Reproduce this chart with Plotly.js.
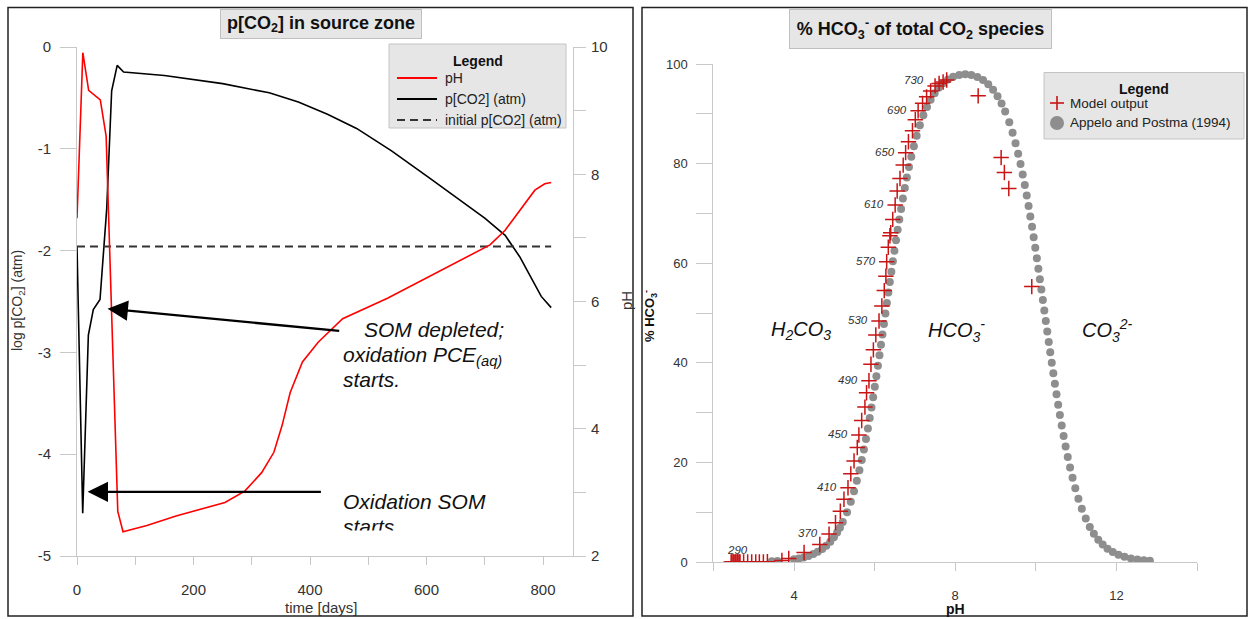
<!DOCTYPE html>
<html>
<head>
<meta charset="utf-8">
<script src="https://cdn.plot.ly/plotly-3.0.1.min.js"></script>
<style>
html,body{margin:0;padding:0;background:#fff;}
#chart{width:1251px;height:619px;}
</style>
</head>
<body>
<div id="chart"></div>
<script>
// ---------- Left chart data: p[CO2] in source zone ----------
const pHTime   = [0, 10, 20, 40, 50, 70, 79, 120, 170, 210, 254, 288, 317, 338, 352, 366, 387, 414, 456, 533, 600, 657, 709, 735, 760, 786, 803, 814];
const pHValues = [7.31, 9.91, 9.32, 9.17, 8.60, 2.70, 2.38, 2.48, 2.63, 2.73, 2.84, 3.02, 3.31, 3.63, 4.05, 4.57, 5.05, 5.36, 5.73, 6.05, 6.37, 6.65, 6.89, 7.12, 7.43, 7.75, 7.85, 7.87];

const co2Time   = [0, 9.8, 19.5, 28, 39.5, 45, 51, 59.5, 69, 80, 150, 250, 330, 380, 430, 480, 540, 606, 657, 700, 735, 760, 780, 797, 814];
const co2Values = [-1.96, -4.58, -2.83, -2.58, -2.48, -2.08, -1.59, -0.43, -0.18, -0.245, -0.28, -0.36, -0.45, -0.54, -0.66, -0.80, -1.02, -1.29, -1.50, -1.68, -1.85, -2.06, -2.27, -2.45, -2.56];

const initTime   = [0, 814];
const initValues = [-1.96, -1.96];

const leftYTickVals = [0, -1, -2, -3, -4, -5];
const leftYTickText = ['0', '-1', '-2', '-3', '-4', '-5'];

const leftLegendNames  = ['pH', 'p[CO2] (atm)', 'initial p[CO2] (atm)'];
const rightLegendNames = ['Model output', 'Appelo and Postma (1994)'];

// ---------- Right chart data: % HCO3- of total CO2 species ----------
const modelPH  = [2.44, 2.46, 2.49, 2.51, 2.54, 2.56, 2.59, 2.61, 2.64, 2.66, 2.75, 2.85, 2.95, 3.05, 3.14, 3.24, 3.34, 3.70, 3.87, 4.25,
                  4.64, 4.87, 5.03, 5.15, 5.24, 5.34, 5.41, 5.49, 5.57, 5.61, 5.68, 5.76, 5.80, 5.86, 5.91, 5.97, 6.03, 6.11, 6.18, 6.24,
                  6.28, 6.30, 6.34, 6.38, 6.40, 6.45, 6.51, 6.56, 6.63, 6.71, 6.77, 6.84, 6.94, 7.01, 7.08, 7.19, 7.29, 7.39, 7.50, 7.60,
                  7.70, 7.79, 8.57, 9.14, 9.22, 9.33, 9.90];
const modelPct = [0, 0, 0, 0, 0, 0, 0, 0, 0, 0, 0, 0, 0, 0, 0, 0, 0.05, 0.3, 0.7, 1.9,
                  3.5, 5.6, 7.9, 10.2, 12.6, 14.9, 17.7, 20.3, 23.0, 25.5, 28.4, 31.1, 34.0, 36.4, 39.7, 42.6, 45.6, 48.4, 51.4, 54.5,
                  57.4, 60.3, 63.2, 65.5, 66.1, 68.8, 71.7, 74.5, 77.0, 79.7, 82.2, 84.4, 86.6, 88.8, 90.6, 92.1, 93.4, 94.6, 95.6, 96.1,
                  96.4, 96.8, 93.6, 81.2, 78.2, 75.0, 55.3];

const appeloPH  = [3.45, 3.59, 4.00, 4.12, 4.24, 4.36, 4.48, 4.59, 4.70, 4.80, 4.90, 4.99, 5.07, 5.14, 5.21,
                   5.316, 5.409, 5.489, 5.559, 5.623, 5.681, 5.735, 5.786, 5.834, 5.879, 5.923, 5.964, 6.005, 6.044, 6.083,
                   6.121, 6.158, 6.195, 6.232, 6.268, 6.305, 6.341, 6.378, 6.416, 6.453, 6.492, 6.531, 6.572, 6.613, 6.657,
                   6.702, 6.750, 6.800, 6.853, 6.911, 6.974, 7.044, 7.123, 7.210,
                   7.30, 7.39, 7.49, 7.59, 7.70, 7.82, 7.95, 8.10, 8.25, 8.40, 8.55, 8.69, 8.82, 8.94, 9.05, 9.15, 9.24,
                   9.342, 9.424, 9.497, 9.562, 9.621, 9.675, 9.727, 9.775, 9.821, 9.864, 9.907, 9.947, 9.987, 10.026, 10.064,
                   10.101, 10.138, 10.175, 10.211, 10.248, 10.284, 10.321, 10.358, 10.396, 10.435, 10.474, 10.514, 10.555,
                   10.598, 10.643, 10.690, 10.740, 10.793, 10.850, 10.912, 10.980, 11.057, 11.142,
                   11.24, 11.34, 11.44, 11.55, 11.66, 11.78, 11.91, 12.05, 12.20, 12.36, 12.52, 12.68, 12.83];
const appeloPct = [0.15, 0.21, 0.53, 0.70, 0.92, 1.22, 1.60, 2.05, 2.62, 3.28, 4.09, 4.99, 5.93, 6.90, 8.01,
                   10.0, 12.1, 14.2, 16.3, 18.4, 20.5, 22.6, 24.7, 26.8, 28.9, 31.0, 33.1, 35.2, 37.3, 39.4,
                   41.5, 43.6, 45.7, 47.8, 49.9, 52.0, 54.1, 56.2, 58.3, 60.4, 62.5, 64.6, 66.7, 68.8, 70.9,
                   73.0, 75.1, 77.2, 79.3, 81.4, 83.5, 85.6, 87.7, 89.7,
                   91.37, 92.82, 94.14, 95.22, 96.14, 96.88, 97.44, 97.81, 97.92, 97.80, 97.41, 96.78, 95.91, 94.82, 93.53, 92.05, 90.44,
                   88.3, 86.2, 84.1, 82.0, 79.9, 77.8, 75.7, 73.6, 71.5, 69.4, 67.3, 65.2, 63.1, 61.0, 58.9,
                   56.8, 54.7, 52.6, 50.5, 48.4, 46.3, 44.2, 42.1, 40.0, 37.9, 35.8, 33.7, 31.6,
                   29.5, 27.4, 25.3, 23.2, 21.1, 19.0, 16.9, 14.8, 12.7, 10.7,
                   8.72, 7.05, 5.68, 4.47, 3.50, 2.68, 2.00, 1.46, 1.04, 0.72, 0.50, 0.35, 0.25];

// time labels of model output, attached to model points (by index)
const timeLabels   = ['290', '370', '410', '450', '490', '530', '570', '610', '650', '690', '730'];
const timeLabelIdx = [7, 21, 25, 29, 33, 37, 41, 46, 50, 54, 58];

// ---------- helpers ----------
const W = 1251, H = 619;
const FONT = 'Arial, "Liberation Sans", Helvetica, sans-serif';
const px = v => v / W;
const py = v => 1 - v / H;
const AX = '#c8c8c8';
const TXT = '#333333';
const RED = '#ff0000', BLACK = '#000000', DASHC = '#333333';
const MODELC = '#c81414', APPC = '#8e8e8e';

const traces = [
  {x: pHTime, y: pHValues, xaxis: 'x', yaxis: 'y2', name: leftLegendNames[0], mode: 'lines',
   line: {color: RED, width: 1.6}},
  {x: co2Time, y: co2Values, xaxis: 'x', yaxis: 'y', name: leftLegendNames[1], mode: 'lines',
   line: {color: BLACK, width: 1.6}},
  {x: initTime, y: initValues, xaxis: 'x', yaxis: 'y', name: leftLegendNames[2], mode: 'lines',
   line: {color: DASHC, width: 2, dash: '8px,5px'}},
  {x: appeloPH, y: appeloPct, xaxis: 'x3', yaxis: 'y3', name: rightLegendNames[1], mode: 'markers',
   marker: {symbol: 'circle', size: 8, color: APPC}},
  {x: modelPH, y: modelPct, xaxis: 'x3', yaxis: 'y3', name: rightLegendNames[0], mode: 'markers',
   marker: {symbol: 'cross-thin', size: 11, color: MODELC, line: {color: MODELC, width: 1.5}}}
];

const baseAxis = {
  showline: true, linecolor: AX, linewidth: 1, ticks: 'outside', tickcolor: AX, tickwidth: 1,
  showgrid: false, zeroline: false, fixedrange: true
};

const annotations = [];
const shapes = [];
function addText(o) {
  annotations.push(Object.assign({showarrow: false, xref: 'paper', yref: 'paper', xanchor: 'center', yanchor: 'middle'}, o));
}

// panel frames
shapes.push({type: 'rect', xref: 'paper', yref: 'paper', x0: px(8), x1: px(633), y0: py(616), y1: py(7.5),
  line: {color: '#222', width: 1.5}, fillcolor: 'rgba(0,0,0,0)'});
shapes.push({type: 'rect', xref: 'paper', yref: 'paper', x0: px(642), x1: px(1247), y0: py(616), y1: py(7.5),
  line: {color: '#222', width: 1.5}, fillcolor: 'rgba(0,0,0,0)'});

// chart titles in grey boxes
addText({x: px(320.5), y: py(24), width: 200, height: 28,
  text: '<b>p[CO<sub>2</sub>] in source zone</b>', font: {family: FONT, size: 18, color: '#111'},
  bgcolor: '#e6e6e6', bordercolor: '#c0c0c0', borderwidth: 1, borderpad: 0});
addText({x: px(920), y: py(28.5), width: 261, height: 38,
  text: '<b>% HCO<sub>3</sub><sup>-</sup> of total CO<sub>2</sub> species</b>', font: {family: FONT, size: 18, color: '#111'},
  bgcolor: '#e6e6e6', bordercolor: '#c0c0c0', borderwidth: 1, borderpad: 0});

// axis titles
addText({x: px(18), y: py(301), textangle: -90, text: 'log p[CO<sub>2</sub>] (atm)', font: {family: FONT, size: 14, color: TXT}});
addText({x: px(626), y: py(301), textangle: -90, text: 'pH', font: {family: FONT, size: 15, color: TXT}});
addText({x: px(322), y: py(607), text: 'time [days]', font: {family: FONT, size: 15, color: TXT}});
addText({x: px(955), y: py(609), text: '<b>pH</b>', font: {family: FONT, size: 14, color: '#111'}});
addText({x: px(650), y: py(316), textangle: -90, text: '<b>% HCO<sub>3</sub><sup>-</sup></b>', font: {family: FONT, size: 13, color: '#111'}});

// ----- left legend (drawn box) -----
shapes.push({type: 'rect', xref: 'paper', yref: 'paper', x0: px(389), x1: px(566), y0: py(128), y1: py(44),
  line: {color: '#c4c4c4', width: 1}, fillcolor: '#e6e6e6'});
addText({x: px(477.5), y: py(61), text: '<b>Legend</b>', font: {family: FONT, size: 14, color: '#111'}});
const legRowY = [78, 99, 120];
const legLineStyle = [
  {color: RED, width: 1.8},
  {color: BLACK, width: 1.8},
  {color: DASHC, width: 2, dash: '8px,5px'}
];
leftLegendNames.forEach((n, i) => {
  shapes.push({type: 'line', xref: 'paper', yref: 'paper', x0: px(397), x1: px(437), y0: py(legRowY[i]), y1: py(legRowY[i]),
    line: legLineStyle[i]});
  addText({x: px(443), y: py(legRowY[i]), xanchor: 'left', text: n, font: {family: FONT, size: 14, color: '#222'}});
});

// ----- right legend (drawn box) -----
shapes.push({type: 'rect', xref: 'paper', yref: 'paper', x0: px(1044), x1: px(1244), y0: py(139), y1: py(72.5),
  line: {color: '#c4c4c4', width: 1}, fillcolor: '#e6e6e6'});
addText({x: px(1144), y: py(89), text: '<b>Legend</b>', font: {family: FONT, size: 14, color: '#111'}});
// cross symbol
shapes.push({type: 'line', xref: 'paper', yref: 'paper', x0: px(1050), x1: px(1064), y0: py(103), y1: py(103), line: {color: MODELC, width: 1.6}});
shapes.push({type: 'line', xref: 'paper', yref: 'paper', x0: px(1057), x1: px(1057), y0: py(96), y1: py(110), line: {color: MODELC, width: 1.6}});
// circle symbol
shapes.push({type: 'circle', xref: 'paper', yref: 'paper', x0: px(1050), x1: px(1064), y0: py(130), y1: py(116),
  line: {color: APPC, width: 0}, fillcolor: APPC});
addText({x: px(1068), y: py(103), xanchor: 'left', text: rightLegendNames[0], font: {family: FONT, size: 13.5, color: '#222'}});
addText({x: px(1068), y: py(123), xanchor: 'left', text: rightLegendNames[1], font: {family: FONT, size: 13.5, color: '#222'}});

// left explanatory texts
const itFont = {family: FONT, size: 21, color: '#111'};
addText({x: px(362), y: py(329), xanchor: 'left', text: '<i>SOM depleted;</i>', font: itFont});
addText({x: px(341), y: py(356), xanchor: 'left', text: '<i>oxidation PCE<sub>(aq)</sub></i>', font: itFont});
addText({x: px(341), y: py(379), xanchor: 'left', text: '<i>starts.</i>', font: itFont});
addText({x: px(341), y: py(501), xanchor: 'left', text: '<i>Oxidation SOM</i>', font: itFont});
addText({x: px(341), y: py(526), xanchor: 'left', text: '<i>starts</i>', font: itFont});
// clipping of the last text line (as in the reference)
addText({x: px(336), y: py(529.5), xanchor: 'left', yanchor: 'top', width: 110, height: 16, text: ' ',
  bgcolor: '#ffffff', borderpad: 0, font: {size: 4}});

// arrows
annotations.push({xref: 'x', yref: 'y', axref: 'x', ayref: 'y', x: 52.4, y: -2.57, ax: 452.7, ay: -2.79,
  text: '', showarrow: true, arrowhead: 2, arrowsize: 1.7, arrowwidth: 2.4, arrowcolor: '#000', standoff: 0});
annotations.push({xref: 'x', yref: 'y', axref: 'x', ayref: 'y', x: 18.2, y: -4.37, ax: 421.3, ay: -4.37,
  text: '', showarrow: true, arrowhead: 2, arrowsize: 1.7, arrowwidth: 2.4, arrowcolor: '#000', standoff: 0});

// right region labels
const regFont = {family: FONT, size: 20, color: '#111'};
annotations.push({xref: 'x3', yref: 'y3', x: 4.17, y: 46.4, showarrow: false, xanchor: 'center', yanchor: 'middle',
  text: '<i>H<sub>2</sub>CO<sub>3</sub></i>', font: regFont});
annotations.push({xref: 'x3', yref: 'y3', x: 8.02, y: 46.4, showarrow: false, xanchor: 'center', yanchor: 'middle',
  text: '<i>HCO<sub>3</sub><sup>-</sup></i>', font: regFont});
annotations.push({xref: 'x3', yref: 'y3', x: 11.78, y: 46.4, showarrow: false, xanchor: 'center', yanchor: 'middle',
  text: '<i>CO<sub>3</sub><sup>2-</sup></i>', font: regFont});

// time labels next to model points
timeLabels.forEach((t, i) => {
  const k = timeLabelIdx[i];
  const first = (t === '290');
  const top = (t === '730');
  annotations.push({xref: 'x3', yref: 'y3', x: modelPH[k], y: modelPct[k], showarrow: false,
    text: '<i>' + t + '</i>', font: {family: FONT, size: 11.5, color: TXT}, yanchor: 'middle',
    xanchor: first ? 'center' : 'right', xshift: first ? 0 : -9, yshift: first ? 12 : (top ? 6 : 1)});
});

const layout = {
  width: W, height: H,
  margin: {l: 0, r: 0, t: 0, b: 0, pad: 0},
  paper_bgcolor: '#ffffff', plot_bgcolor: 'rgba(0,0,0,0)',
  font: {family: FONT, size: 14, color: TXT},
  showlegend: false,
  hovermode: false,
  xaxis: Object.assign({}, baseAxis, {
    domain: [px(77), px(573)], range: [0, 851.5], anchor: 'y',
    tick0: 0, dtick: 200, ticklen: 8, ticklabelstandoff: 12,
    minor: {dtick: 100, tick0: 0, ticks: 'outside', ticklen: 8, tickcolor: AX, tickwidth: 1, showgrid: false},
    tickfont: {family: FONT, size: 15, color: TXT}
  }),
  yaxis: Object.assign({}, baseAxis, {
    domain: [py(556), py(47)], range: [-5, 0], anchor: 'x',
    tickmode: 'array', tickvals: leftYTickVals, ticktext: leftYTickText, ticklen: 16, ticklabelstandoff: 6,
    tickfont: {family: FONT, size: 15, color: TXT}
  }),
  yaxis2: Object.assign({}, baseAxis, {
    overlaying: 'y', side: 'right', anchor: 'x', range: [2, 10],
    tick0: 0, dtick: 2, ticklen: 12, ticklabelstandoff: 2,
    minor: {dtick: 1, tick0: 0, ticks: 'outside', ticklen: 12, tickcolor: AX, tickwidth: 1, showgrid: false},
    tickfont: {family: FONT, size: 15, color: TXT}
  }),
  xaxis3: Object.assign({}, baseAxis, {
    domain: [px(713.4), px(1197)], range: [2, 14], anchor: 'y3',
    tick0: 0, dtick: 4, ticklen: 8, ticklabelstandoff: 13,
    minor: {dtick: 2, tick0: 0, ticks: 'outside', ticklen: 8, tickcolor: AX, tickwidth: 1, showgrid: false},
    tickfont: {family: FONT, size: 13, color: TXT}
  }),
  yaxis3: Object.assign({}, baseAxis, {
    domain: [py(562), py(64)], range: [0, 100], anchor: 'x3',
    tick0: 0, dtick: 20, ticklen: 16, ticklabelstandoff: 6,
    minor: {dtick: 10, tick0: 0, ticks: 'outside', ticklen: 16, tickcolor: AX, tickwidth: 1, showgrid: false},
    tickfont: {family: FONT, size: 13, color: TXT}
  }),
  annotations: annotations,
  shapes: shapes
};

Plotly.newPlot('chart', traces, layout, {staticPlot: true, displayModeBar: false, responsive: false});
</script>
</body>
</html>
